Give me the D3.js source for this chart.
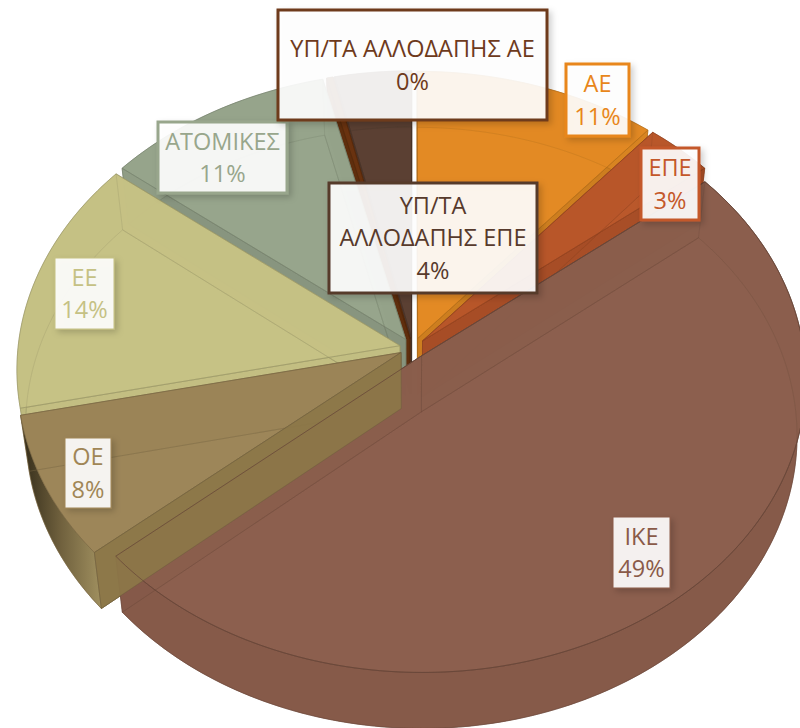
<!DOCTYPE html>
<html>
<head>
<meta charset="utf-8">
<script src="https://d3js.org/d3.v7.min.js"></script>
<style>
html, body { margin: 0; padding: 0; background: #fff; overflow: hidden; }
text { font-family: "Open Sans", "Noto Sans", sans-serif; }
</style>
</head>
<body>
<div id="chart"></div>
<script>
var categories = ["ΑΕ", "ΕΠΕ", "ΙΚΕ", "ΟΕ", "ΕΕ", "ΑΤΟΜΙΚΕΣ", "ΥΠ/ΤΑ ΑΛΛΟΔΑΠΗΣ ΑΕ", "ΥΠ/ΤΑ ΑΛΛΟΔΑΠΗΣ ΕΠΕ"];
var values = [11.1, 3.1, 49.49, 7.9, 14.1, 10.5, 0.3, 3.5];
var percentLabels = ["11%", "3%", "49%", "8%", "14%", "11%", "0%", "4%"];
var colors = ["#e28a22", "#b9562a", "#8b5e4c", "#9c8558", "#c5c184", "#96a48b", "#6a3310", "#5a3f32"];
var labelColors = ["#e8861a", "#c4582a", "#8a5a48", "#a08656", "#c5c184", "#98a68c", "#6e3a1c", "#573a2c"];

var width = 800, height = 728;

// label boxes
var boxes = [
    { x: 566, y: 64, w: 63, h: 72, lines: ["ΑΕ"], sw: 3 },
    { x: 641, y: 148, w: 58, h: 72, lines: ["ΕΠΕ"], sw: 3 },
    { x: 613, y: 517, w: 57, h: 71, lines: ["ΙΚΕ"], sw: 1 },
    { x: 65, y: 438, w: 46, h: 70, lines: ["ΟΕ"], sw: 1 },
    { x: 55, y: 258, w: 59, h: 71, lines: ["ΕΕ"], sw: 1 },
    { x: 158, y: 122, w: 129, h: 71, lines: ["ΑΤΟΜΙΚΕΣ"], sw: 3 },
    { x: 278, y: 10, w: 269, h: 110, lines: ["ΥΠ/ΤΑ ΑΛΛΟΔΑΠΗΣ ΑΕ"], sw: 3 },
    { x: 329, y: 183, w: 208, h: 110, lines: ["ΥΠ/ΤΑ", "ΑΛΛΟΔΑΠΗΣ ΕΠΕ"], sw: 3 }
];

var svg = d3.select("#chart").append("svg")
    .attr("width", width)
    .attr("height", height);

var defs = svg.append("defs");

var shadow = defs.append("filter").attr("id", "shadow")
    .attr("x", "-20%").attr("y", "-20%").attr("width", "150%").attr("height", "150%");
shadow.append("feDropShadow")
    .attr("dx", 3).attr("dy", 3).attr("stdDeviation", 3)
    .attr("flood-color", "#000").attr("flood-opacity", 0.2);

var wallGrad = defs.append("linearGradient").attr("id", "oeWall")
    .attr("x1", "0").attr("x2", "1").attr("y1", "0").attr("y2", "0");
wallGrad.append("stop").attr("offset", "0").attr("stop-color", "#2e2716");
wallGrad.append("stop").attr("offset", "0.5").attr("stop-color", "#6e5f3c");
wallGrad.append("stop").attr("offset", "1").attr("stop-color", "#a0905f");

// tilted disc with a bit of perspective, unit coordinates go through these scales
var xScale = d3.scaleLinear().domain([-1, 1]).range([413 - 382, 413 + 382]);
var yScale = d3.scaleLinear().domain([-1, 1]).range([348 + 290, 348 - 290]);
var persp = 0.08, depth = 56, baseShrink = 0.978, explode = 0.035;

function project(u, v, low) {
    var p = 1 / (1 + persp * v);
    var sx = (xScale(u) - xScale(0)) * p * (low ? baseShrink : 1);
    var sy = (yScale(v) - yScale(0)) * p;
    return [xScale(0) + sx, yScale(0) + sy + (low ? depth : 0)];
}

var line = d3.line();

var pie = d3.pie().sort(null).value(d => d)(values);

function polar(a, r, o) {
    return [o[0] + r * Math.sin(a), o[1] + r * Math.cos(a)];
}

function sliceShapes(d) {
    var mid = (d.startAngle + d.endAngle) / 2;
    var o = [explode * Math.sin(mid), explode * Math.cos(mid)];
    var steps = Math.max(2, Math.ceil((d.endAngle - d.startAngle) / 0.02));
    var angles = d3.range(steps + 1).map(i => d.startAngle + (d.endAngle - d.startAngle) * i / steps);
    var rim = angles.map(a => polar(a, 1, o));
    var tip = o;
    var top = [tip].concat(rim).map(p => project(p[0], p[1], false));
    var bottom = [tip].concat(rim).map(p => project(p[0], p[1], true));
    var rimTop = rim.map(p => project(p[0], p[1], false));
    var rimLow = rim.map(p => project(p[0], p[1], true));
    var wall1 = [top[0], top[1], bottom[1], bottom[0]];
    var wall2 = [top[0], top[top.length - 1], bottom[bottom.length - 1], bottom[0]];
    return {
        top: line(top) + "Z",
        bottom: line(bottom) + "Z",
        outer: line(rimTop.concat(rimLow.reverse())) + "Z",
        wall1: line(wall1) + "Z",
        wall2: line(wall2) + "Z"
    };
}

// back slices first, ΙΚΕ lies over everything
var order = [7, 6, 5, 0, 1, 4, 3, 2];
var pieG = svg.append("g");

order.forEach(function (i) {
    var s = sliceShapes(pie[i]);
    var col = colors[i];
    var edge = d3.color(col).darker(0.7);
    var wallDark = i === 4 ? 0.05 : 0.3;
    var g = pieG.append("g");
    g.append("path").attr("d", s.bottom)
        .attr("fill", col).attr("fill-opacity", 0.92)
        .attr("stroke", edge).attr("stroke-opacity", 0.4).attr("stroke-width", 1);
    [s.wall1, s.wall2].forEach(function (path) {
        g.append("path").attr("d", path)
            .attr("fill", d3.color(col).darker(wallDark)).attr("fill-opacity", 0.95)
            .attr("stroke", edge).attr("stroke-opacity", 0.45).attr("stroke-width", 1);
    });
    g.append("path").attr("d", s.outer)
        .attr("fill", i === 3 ? "url(#oeWall)" : d3.color(col).darker(0.12))
        .attr("fill-opacity", 0.96)
        .attr("stroke", edge).attr("stroke-opacity", 0.4).attr("stroke-width", 1);
    g.append("path").attr("d", s.top)
        .attr("fill", col).attr("fill-opacity", 0.9)
        .attr("stroke", edge).attr("stroke-opacity", 0.6).attr("stroke-width", 1);
    // hidden edges still show faintly through the glassy top
    [s.bottom, s.wall1, s.wall2].forEach(function (path) {
        g.append("path").attr("d", path)
            .attr("fill", "none")
            .attr("stroke", edge).attr("stroke-opacity", 0.28).attr("stroke-width", 1);
    });
});

// the front wall of ΟΕ stays visible over the edge of ΙΚΕ
var oeShapes = sliceShapes(pie[3]);
pieG.append("path").attr("d", oeShapes.wall1)
    .attr("fill", "#8d7848").attr("fill-opacity", 0.9)
    .attr("stroke", d3.color(colors[3]).darker(1)).attr("stroke-opacity", 0.5).attr("stroke-width", 1);
pieG.append("path").attr("d", sliceShapes(pie[2]).top)
    .attr("fill", "none")
    .attr("stroke", d3.color(colors[2]).darker(0.9)).attr("stroke-opacity", 0.7).attr("stroke-width", 1);

var labels = svg.selectAll("g.label")
    .data(boxes)
    .enter().append("g")
    .classed("label", true)
    .attr("transform", d => "translate(" + d.x + "," + d.y + ")");

labels.append("rect")
    .attr("width", d => d.w)
    .attr("height", d => d.h)
    .attr("fill", "#fff")
    .attr("fill-opacity", 0.9)
    .attr("stroke", (d, i) => labelColors[i])
    .attr("stroke-width", d => d.sw)
    .attr("filter", "url(#shadow)");

labels.each(function (d, i) {
    var rows = d.lines.concat([percentLabels[i]]);
    var mid = d.w / 2;
    var first = d.h / 2 - (rows.length - 1) * 16.2;
    d3.select(this).selectAll("text")
        .data(rows)
        .enter().append("text")
        .attr("x", mid)
        .attr("y", (r, j) => first + j * 32.4)
        .attr("dy", "0.36em")
        .attr("text-anchor", "middle")
        .attr("font-size", 23.5)
        .attr("fill", labelColors[i])
        .text(r => r);
});
</script>
</body>
</html>
